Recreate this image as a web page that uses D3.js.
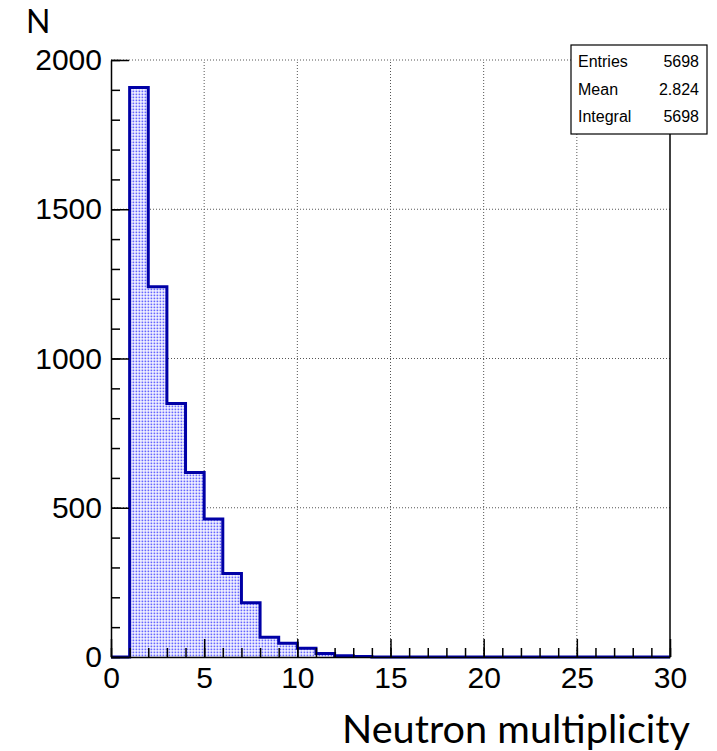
<!DOCTYPE html>
<html>
<head>
<meta charset="utf-8">
<script src="https://cdn.jsdelivr.net/npm/d3@7/dist/d3.min.js"></script>
<style>
  html, body { margin: 0; padding: 0; background: #fff; }
  svg { display: block; }
  .tick text { font-family: "Liberation Sans", Arial, sans-serif; }
</style>
</head>
<body>
<svg id="chart" width="717" height="751"></svg>
<script>
// Neutron multiplicity histogram: unit-width bins from 0 to 30
const binLow = [0, 1, 2, 3, 4, 5, 6, 7, 8, 9, 10, 11, 12, 13, 14,
                15, 16, 17, 18, 19, 20, 21, 22, 23, 24, 25, 26, 27, 28, 29];
const counts = [0, 1908, 1240, 849, 618, 462, 280, 182, 66, 46, 29, 12, 4, 2, 0,
                0, 0, 0, 0, 0, 0, 0, 0, 0, 0, 0, 0, 0, 0, 0];
const xTicks = [0, 5, 10, 15, 20, 25, 30];
const yTicks = [0, 500, 1000, 1500, 2000];
const statNames = ["Entries", "Mean", "Integral"];
const statValues = ["5698", "2.824", "5698"];

const svg = d3.select("#chart");
const x = d3.scaleLinear().domain([0, 30]).range([111, 670]);
const y = d3.scaleLinear().domain([0, 2000]).range([657, 60]);

// dotted fill pattern of the histogram
const defs = svg.append("defs");
const pat = defs.append("pattern")
  .attr("id", "dots").attr("patternUnits", "userSpaceOnUse")
  .attr("width", 3).attr("height", 3);
pat.append("rect").attr("width", 3).attr("height", 3).attr("fill", "#ffffff");
pat.append("rect").attr("x", 0.5).attr("y", 0.5).attr("width", 1.8).attr("height", 1.8)
  .attr("fill", "#4a4aff").attr("opacity", 0.85);

// grid
const grid = svg.append("g").attr("stroke", "#555").attr("stroke-width", 1)
  .attr("stroke-dasharray", "1,2");
grid.selectAll("line.gx").data(xTicks.slice(1, -1)).join("line")
  .attr("x1", d => x(d)).attr("x2", d => x(d))
  .attr("y1", y(0)).attr("y2", y(2000));
grid.selectAll("line.gy").data(yTicks.slice(1)).join("line")
  .attr("x1", x(0)).attr("x2", x(30))
  .attr("y1", d => y(d)).attr("y2", d => y(d));

// histogram
const pts = binLow.map((b, i) => [b, counts[i]]);
pts.push([30, counts[counts.length - 1]]);
svg.append("path")
  .attr("d", d3.area().curve(d3.curveStepAfter)
    .x(d => x(d[0])).y0(y(0)).y1(d => y(d[1]))(pts))
  .attr("fill", "url(#dots)");
svg.append("path")
  .attr("d", d3.line().curve(d3.curveStepAfter)
    .x(d => x(d[0])).y(d => y(d[1]))(pts))
  .attr("fill", "none").attr("stroke", "#0000a6").attr("stroke-width", 3)
  .attr("stroke-linejoin", "miter");

// right frame edge
svg.append("line").attr("x1", x(30)).attr("x2", x(30))
  .attr("y1", y(2000)).attr("y2", y(0))
  .attr("stroke", "#000").attr("stroke-width", 1.5);

// axes
const xMinor = svg.append("g").attr("transform", `translate(0,${y(0)})`)
  .call(d3.axisBottom(x).ticks(30).tickSizeInner(-9).tickSizeOuter(0).tickFormat(""));
xMinor.select(".domain").remove();
const xAxis = svg.append("g").attr("transform", `translate(0,${y(0)})`)
  .call(d3.axisBottom(x).tickValues(xTicks).tickSizeInner(-18).tickSizeOuter(0)
    .tickPadding(10).tickFormat(d3.format("d")));
xAxis.selectAll(".tick text").attr("font-size", 30).attr("fill", "#000");
xAxis.select(".domain").attr("stroke-width", 1.5);

const yMinor = svg.append("g").attr("transform", `translate(${x(0)},0)`)
  .call(d3.axisLeft(y).ticks(20).tickSizeInner(-9).tickSizeOuter(0).tickFormat(""));
yMinor.select(".domain").remove();
const yAxis = svg.append("g").attr("transform", `translate(${x(0)},0)`)
  .call(d3.axisLeft(y).tickValues(yTicks).tickSizeInner(-18).tickSizeOuter(0)
    .tickPadding(9).tickFormat(d3.format("d")));
yAxis.selectAll(".tick text").attr("font-size", 30).attr("fill", "#000");
yAxis.select(".domain").attr("stroke-width", 1.5);
svg.selectAll(".tick line").attr("stroke-width", 1.5);

// stats box
const box = svg.append("g");
box.append("rect").attr("x", 571).attr("y", 45).attr("width", 136).attr("height", 89)
  .attr("fill", "#fff").attr("stroke", "#000").attr("stroke-width", 1.2);
const rowY = [67, 95, 122];
statNames.forEach((n, i) => {
  box.append("text").attr("x", 578).attr("y", rowY[i]).text(n)
    .attr("font-family", "Liberation Sans, Arial, sans-serif").attr("font-size", 16);
  box.append("text").attr("x", 699).attr("y", rowY[i]).text(statValues[i])
    .attr("text-anchor", "end")
    .attr("font-family", "Liberation Sans, Arial, sans-serif").attr("font-size", 16);
});

// axis titles
svg.append("text").attr("x", 26).attr("y", 33).text("N")
  .attr("font-family", "Lato, 'Open Sans', sans-serif").attr("font-size", 32);
svg.append("text").attr("x", 342).attr("y", 743).text("Neutron multiplicity")
  .attr("font-family", "Lato, 'Open Sans', sans-serif").attr("font-size", 38)
  .attr("textLength", 348).attr("lengthAdjust", "spacingAndGlyphs");
</script>
</body>
</html>
